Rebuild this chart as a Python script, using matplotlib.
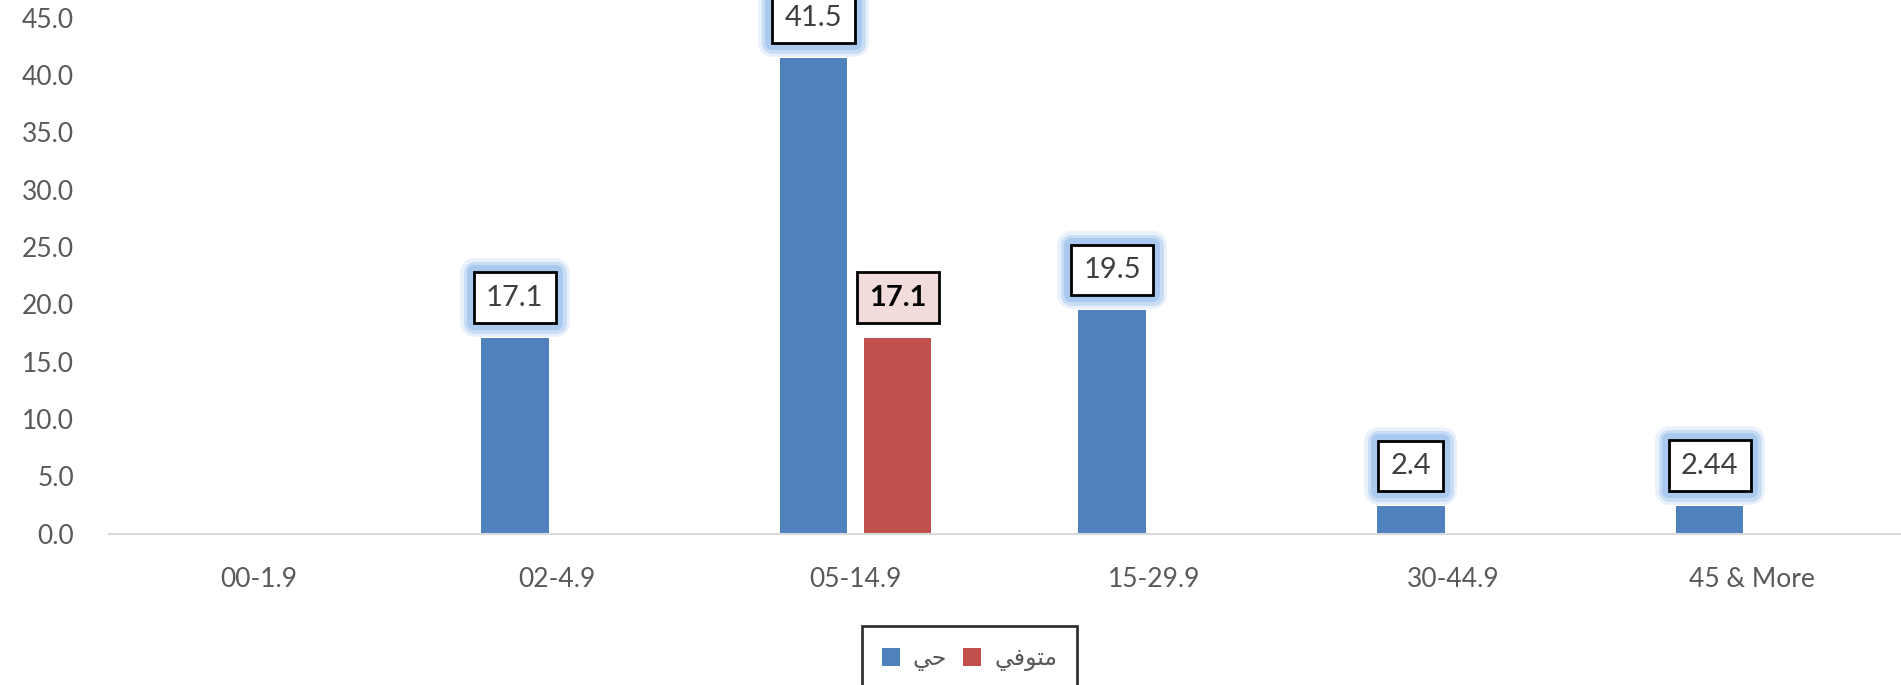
import numpy as np
import matplotlib
matplotlib.use("Agg")
import matplotlib.pyplot as plt
import matplotlib.patheffects as pe

# ===============================================================================================
# data
categories = ['00-1.9', '02-4.9', '05-14.9', '15-29.9', '30-44.9', '45 & More']
alive = [0, 17.1, 41.5, 19.5, 2.4, 2.44]
deceased = [0, 0, 17.1, 0, 0, 0]
y_ticks = [0, 5, 10, 15, 20, 25, 30, 35, 40, 45]

# Arabic legend labels, pre-shaped (presentation forms, visual order) since matplotlib has no shaping
label_alive = '\uFEF2\uFEA3'                      # حي
label_deceased = '\uFEF2\uFED3\uFEEE\uFE98\uFEE3'  # متوفي

BLUE = '#4f81bd'
RED = '#c0504d'
TEXT = '#595959'

plt.rcParams['font.family'] = ['Lato', 'DejaVu Sans']

fig = plt.figure(figsize=(19.01, 6.85), dpi=100)
ax = fig.add_axes([0.0573, 0.221, 1 - 0.0573, 0.974 - 0.221])

x = np.arange(len(categories))
width = 0.226
offset = 0.141

bars_a = ax.bar(x - offset, alive, width, color=BLUE, label=label_alive, zorder=2)
bars_d = ax.bar(x + offset, deceased, width, color=RED, label=label_deceased, zorder=2)

# soft blue glow round the label boxes
glow = [pe.Stroke(linewidth=20, foreground='#dce9f9', alpha=0.6, joinstyle='round'),
        pe.Stroke(linewidth=15, foreground='#c2d9f4', alpha=0.85, joinstyle='round'),
        pe.Stroke(linewidth=10, foreground='#a9c9ef', joinstyle='round'),
        pe.Normal()]

for xi, v in zip(x - offset, alive):
    if v == 0:
        continue
    t = ax.annotate(str(v), (xi, v), xytext=(0, 40), textcoords='offset pixels',
                    ha='center', va='center', fontsize=21, color='#404040',
                    bbox=dict(boxstyle='square,pad=0.42', fc='white', ec='black', lw=2),
                    annotation_clip=False, zorder=5)
    t.get_bbox_patch().set_path_effects(glow)

for xi, v in zip(x + offset, deceased):
    if v == 0:
        continue
    ax.annotate(str(v), (xi, v), xytext=(0, 40), textcoords='offset pixels',
                ha='center', va='center', fontsize=21, color='black', fontweight='bold',
                bbox=dict(boxstyle='square,pad=0.42', fc='#f2dcdb', ec='black', lw=2),
                annotation_clip=False, zorder=5)

ax.set_xlim(-0.5, len(categories) - 0.5)
ax.set_ylim(0, 45)
ax.set_yticks(y_ticks)
ax.set_yticklabels([f'{v:.1f}' for v in y_ticks])
ax.set_xticks(x)
ax.set_xticklabels(categories)
ax.tick_params(axis='y', length=0, pad=25, labelsize=19, labelcolor=TEXT)
ax.tick_params(axis='x', length=0, pad=24, labelsize=19, labelcolor=TEXT)

for side in ['top', 'right', 'left']:
    ax.spines[side].set_visible(False)
ax.spines['bottom'].set_color('#d9d9d9')
ax.spines['bottom'].set_linewidth(1.5)

leg = fig.legend(handles=[bars_a, bars_d], labels=[label_alive, label_deceased],
                 loc='upper center', bbox_to_anchor=(0.510, 0.103), ncol=2,
                 frameon=True, fancybox=False, edgecolor='black',
                 handlelength=0.75, handleheight=0.75, handletextpad=0.55,
                 columnspacing=0.7, borderpad=0.85,
                 prop={'family': 'DejaVu Sans', 'size': 17})
leg.get_frame().set_linewidth(2)
for t in leg.get_texts():
    t.set_color(TEXT)

fig.savefig('out.png', dpi=100)
